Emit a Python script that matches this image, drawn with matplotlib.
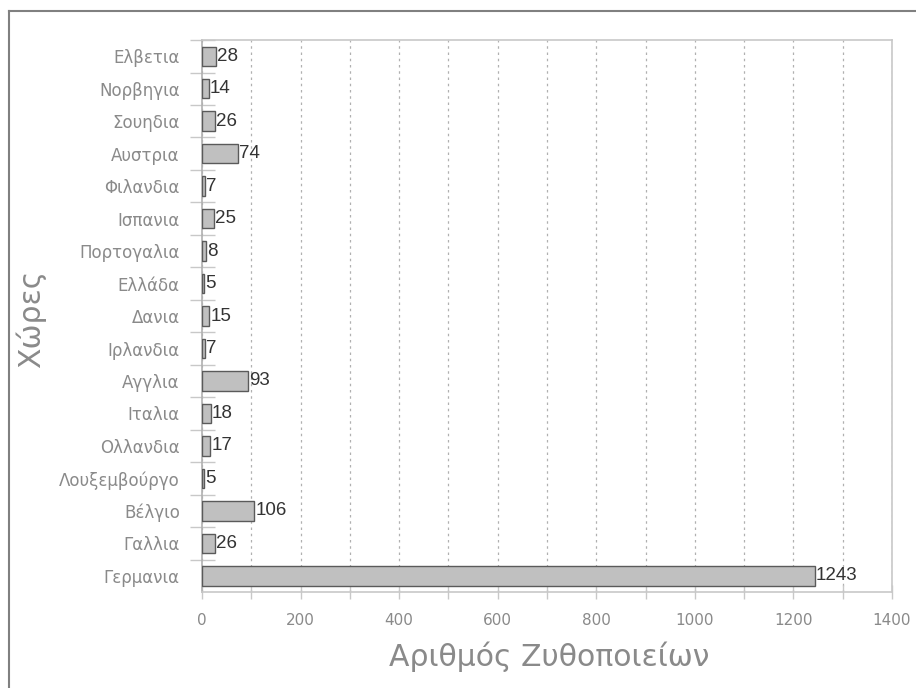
import numpy as np
import matplotlib.pyplot as plt
from matplotlib.lines import Line2D
from matplotlib.ticker import MultipleLocator

# Countries listed top to bottom, with brewery counts
countries = ["Ελβετια", "Νορβηγια", "Σουηδια", "Αυστρια", "Φιλανδια",
             "Ισπανια", "Πορτογαλια", "Ελλάδα", "Δανια", "Ιρλανδια",
             "Αγγλια", "Ιταλια", "Ολλανδια", "Λουξεμβούργο", "Βέλγιο",
             "Γαλλια", "Γερμανια"]
breweries = [28, 14, 26, 74, 7, 25, 8, 5, 15, 7, 93, 18, 17, 5, 106, 26, 1243]

x_label = "Αριθμός Ζυθοποιείων"
y_label = "Χώρες"

label_gray = "#8a8a8a"
line_gray = "#c8c8c8"

fig = plt.figure(figsize=(9.16, 6.88), dpi=100)
ax = fig.add_axes([0.2205, 0.1395, 0.7533, 0.8023])

ypos = np.arange(len(countries))[::-1]
ax.barh(ypos, breweries, height=0.6, color="#c0c0c0",
        edgecolor="#5a5a5a", linewidth=1.0, zorder=3)

for y, v in zip(ypos, breweries):
    ax.text(v + 2, y, str(v), va="center", ha="left", fontsize=13.5,
            family="Liberation Sans", color="#333333", zorder=4)

ax.set_xlim(0, 1400)
ax.set_ylim(-0.5, len(countries) - 0.5)

# y ticks sit between categories, labels centred on bars
ax.set_yticks(np.arange(len(countries)) + 0.5)
ax.set_yticklabels([])
ax.set_yticks(ypos, minor=True)
ax.set_yticklabels(countries, minor=True)
ax.tick_params(axis="y", which="major", direction="inout", length=18,
               color=line_gray, width=1)
ax.tick_params(axis="y", which="minor", length=0, pad=16,
               labelsize=12, labelcolor=label_gray)

ax.xaxis.set_major_locator(MultipleLocator(200))
ax.xaxis.set_minor_locator(MultipleLocator(100))
ax.tick_params(axis="x", which="both", direction="inout", length=10,
               color=line_gray, width=1, pad=10,
               labelsize=11, labelcolor=label_gray)

ax.grid(axis="x", which="both", linestyle=(0, (2, 3)), color="#b0b0b0",
        linewidth=0.9, zorder=0)

for side in ["top", "right", "bottom"]:
    ax.spines[side].set_color(line_gray)
    ax.spines[side].set_linewidth(1.2)
ax.spines["left"].set_color("#b0b0b0")
ax.spines["left"].set_linewidth(1.2)

fig.text(0.5995, 0.045, x_label, ha="center", va="center",
         fontsize=21.5, color=label_gray)
fig.text(0.034, 0.537, y_label, ha="center", va="center", rotation=90,
         fontsize=21.5, color=label_gray)

# frame lines along the left and top edges
fig.add_artist(Line2D([9 / 916, 9 / 916], [0, 1 - 11 / 688],
                      transform=fig.transFigure, color="#808080", lw=1.5))
fig.add_artist(Line2D([9 / 916, 1], [1 - 11 / 688, 1 - 11 / 688],
                      transform=fig.transFigure, color="#808080", lw=1.5))

fig.savefig("out.png", dpi=100)
